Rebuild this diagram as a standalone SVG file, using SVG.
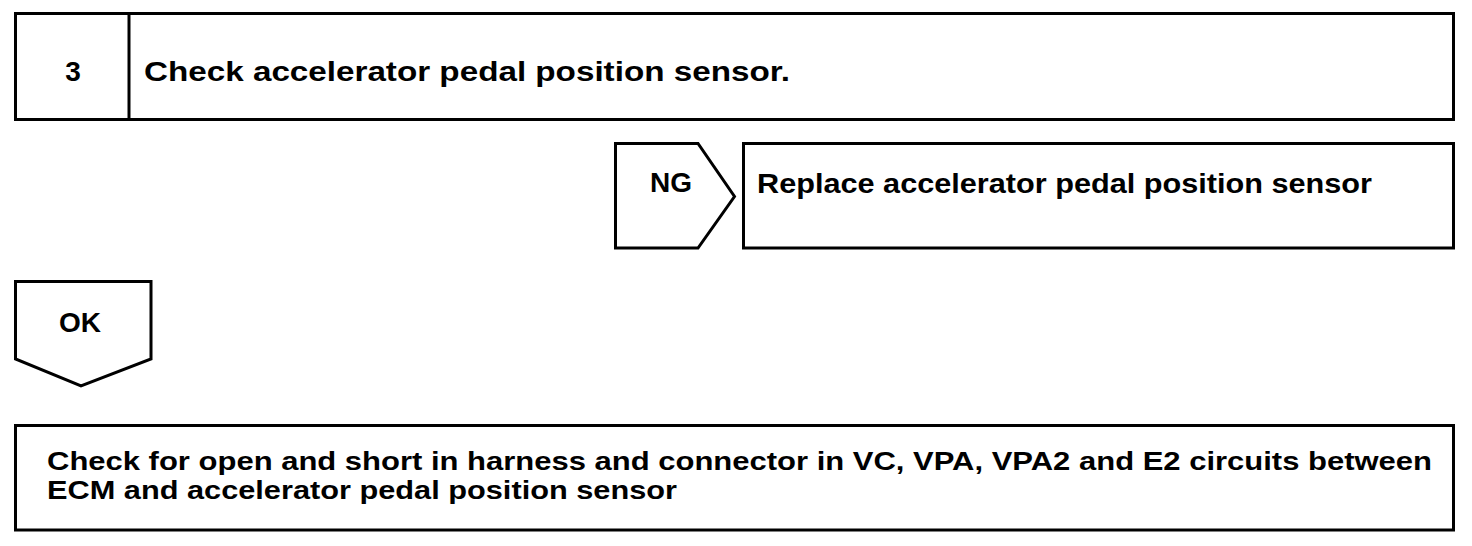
<svg xmlns="http://www.w3.org/2000/svg" width="1472" height="546" viewBox="0 0 1472 546">
<style>
.box{fill:#fff;stroke:#000;stroke-width:3}
.t{font-family:"Liberation Sans",Arial,sans-serif;font-weight:bold;font-size:28px;fill:#000}
.s{font-size:25px}
</style>
<rect width="1472" height="546" fill="#fff"/>
<g id="step3">
<rect class="box" x="15.5" y="13.5" width="1438" height="106"/>
<line x1="129" y1="13" x2="129" y2="120" stroke="#000" stroke-width="3"/>
<text class="t" x="73" y="81" text-anchor="middle">3</text>
<text class="t" x="144" y="81" textLength="646" lengthAdjust="spacingAndGlyphs">Check accelerator pedal position sensor.</text>
</g>
<g id="connectors">
<g id="ng">
<polygon class="box" points="615.5,143.5 698,143.5 734.5,196.5 698,248 615.5,248"/>
<text class="t" x="671" y="192" text-anchor="middle">NG</text>
</g>
<g id="ok">
<polygon class="box" points="15.5,281.5 151,281.5 151,359 81,386 15.5,359"/>
<text class="t" x="80" y="332" text-anchor="middle">OK</text>
</g>
</g>
<g id="replace">
<rect class="box" x="743.5" y="143.5" width="710" height="104.5"/>
<text class="t" x="757" y="193" textLength="615" lengthAdjust="spacingAndGlyphs">Replace accelerator pedal position sensor</text>
</g>
<g id="check-harness">
<rect class="box" x="15.5" y="425.5" width="1438" height="104.5"/>
<text class="t s" x="47" y="470" textLength="1385" lengthAdjust="spacingAndGlyphs">Check for open and short in harness and connector in VC, VPA, VPA2 and E2 circuits between</text>
<text class="t s" x="47" y="499" textLength="630" lengthAdjust="spacingAndGlyphs">ECM and accelerator pedal position sensor</text>
</g>
</svg>
